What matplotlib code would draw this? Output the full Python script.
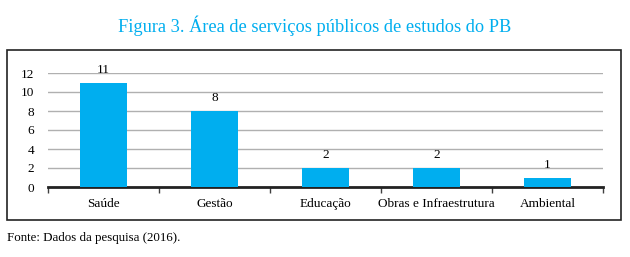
import matplotlib.pyplot as plt
from matplotlib.patches import Rectangle

categorias = ["Saúde", "Gestão", "Educação", "Obras e Infraestrutura", "Ambiental"]
valores = [11, 8, 2, 2, 1]
yticks = [0, 2, 4, 6, 8, 10, 12]

azul = "#00aeef"
plt.rcParams['font.family'] = ['Liberation Serif', 'DejaVu Serif']

W, H = 630, 257
fig = plt.figure(figsize=(W / 100, H / 100), dpi=100)

# area do grafico em pixels
x0, x1 = 48, 603
y0, y1 = 187, 73
ax = fig.add_axes([x0 / W, 1 - y0 / H, (x1 - x0) / W, (y0 - y1) / H])

pos = range(len(categorias))
ax.bar(pos, valores, width=0.42, color=azul, zorder=3)
for p, v in zip(pos, valores):
    ax.annotate(str(v), (p, v), xytext=(0, 5), textcoords='offset points',
                ha='center', va='bottom', fontsize=9.5)

ax.set_xlim(-0.5, len(categorias) - 0.5)
ax.set_ylim(0, 12)
ax.set_yticks(yticks)
ax.yaxis.grid(True, color='#b0b0b0', linewidth=1, zorder=0)
ax.tick_params(axis='y', length=0, labelsize=9.5, pad=10)

ax.set_xticks(list(pos))
ax.set_xticklabels(categorias, fontsize=9.5)
ax.tick_params(axis='x', length=0, pad=8)
# marcas entre categorias
ax.set_xticks([p - 0.5 for p in range(len(categorias) + 1)], minor=True)
ax.tick_params(axis='x', which='minor', length=4, width=1, direction='out', color='#404040')

for s in ['top', 'right', 'left']:
    ax.spines[s].set_visible(False)
ax.spines['bottom'].set_linewidth(2)
ax.spines['bottom'].set_color('#222222')

# moldura
fig.patches.append(Rectangle((7 / W, 1 - 220 / H), (621 - 7) / W, (220 - 50) / H,
                             transform=fig.transFigure, fill=False,
                             edgecolor='#222222', linewidth=1.2))

fig.text(315 / W, 1 - 26 / H, "Figura 3. Área de serviços públicos de estudos do PB",
         ha='center', va='center', fontsize=13.2, color=azul)
fig.text(7 / W, 1 - 238 / H, "Fonte: Dados da pesquisa (2016).",
         ha='left', va='center', fontsize=9.3)

fig.savefig("out.png", dpi=100)
